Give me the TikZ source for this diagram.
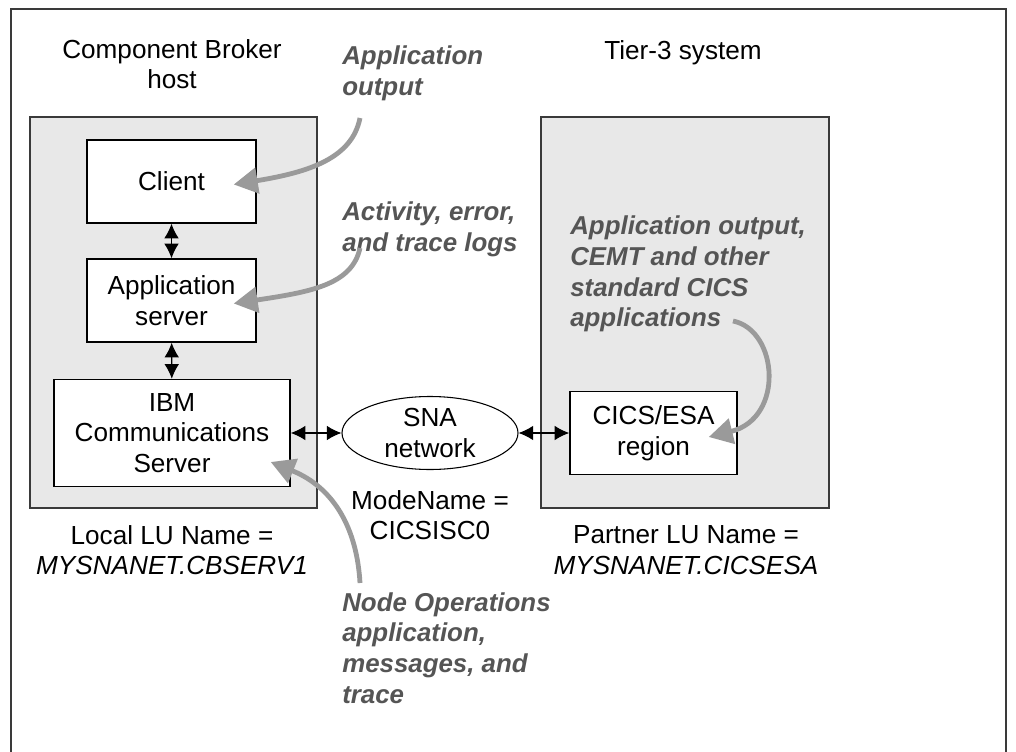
\documentclass[tikz,border=0pt]{standalone}
\usepackage{fontspec}
\setmainfont{Liberation Sans}
\usetikzlibrary{shapes.geometric,arrows.meta}
\newlength{\px}
\setlength{\px}{0.75pt}
\definecolor{notegray}{HTML}{555555}
\definecolor{arrowgray}{HTML}{9A9A9A}
\definecolor{shade}{HTML}{E8E8E8}
\definecolor{framegray}{HTML}{3A3A3A}

\begin{document}
\begin{tikzpicture}[x=0.75pt,y=-0.75pt,
  every node/.style={font=\fontsize{19.6}{23}\selectfont},
  hostbox/.style={draw=framegray,line width=1.1pt,fill=shade,inner sep=0pt},
  unitbox/.style={draw=black,line width=1.1pt,fill=white,align=center,inner sep=0pt},
  note/.style={align=left,inner sep=0pt,text=notegray,font=\fontsize{19.4}{23}\selectfont\bfseries\itshape},
  link/.style={line width=0.9pt,{Latex[length=11pt,width=11pt]}-{Latex[length=11pt,width=11pt]}},
  feed/.style={arrowgray,line width=3.6pt,-{Triangle[length=18pt,width=19pt]}}
]
\fill[white] (0,0) rectangle (1016,752);
\useasboundingbox (0,0) rectangle (1016,752);
\draw[framegray,line width=1.5pt] (11,752) -- (11,9) -- (1006,9) -- (1006,752);

% the two systems
\node[hostbox,minimum width=287\px,minimum height=391\px] (cbhost) at (173.5,312.5) {};
\node[hostbox,minimum width=288\px,minimum height=391\px] (tier3) at (685,312.5) {};
\node[align=center] (cbtitle) at (172,64) {Component Broker\\host};
\node (t3title) at (683,53) {Tier-3 system};

% boxes
\node[unitbox,minimum width=169\px,minimum height=83\px] (client) at (171.5,181.5) {Client};
\node[unitbox,minimum width=169\px,minimum height=83\px] (appsrv) at (171.5,300.5) {Application\\server};
\node[unitbox,minimum width=236\px,minimum height=107\px] (ibmcs) at (172,433) {IBM\\Communications\\Server};
\node[draw,ellipse,line width=0.8pt,fill=white,minimum width=176\px,minimum height=73\px,inner sep=0pt,align=center] (sna) at (430,433) {SNA\\network};
\node[unitbox,minimum width=167\px,minimum height=83\px] (cics) at (653.5,433) {CICS/ESA\\region};

\draw[link] (client) -- (appsrv);
\draw[link] (appsrv) -- (ibmcs);
\draw[link] (ibmcs) -- (sna);
\draw[link] (sna) -- (cics);

% names
\node[align=center] (lulocal) at (172,550) {Local LU Name =\\\textit{MYSNANET.CBSERV1}};
\node[align=center] (mode) at (430,515) {ModeName =\\CICSISC0};
\node[align=center] (lupartner) at (686,550) {Partner LU Name =\\\textit{MYSNANET.CICSESA}};

% where the output goes
\node[note,anchor=west] (appout) at (342,73.5) {Application\\output};
\node[note,anchor=west] (logs) at (342,229.5) {Activity, error,\\and trace logs};
\node[note,anchor=west] (cicsout) at (570,274) {Application output,\\CEMT and other\\standard CICS\\applications};
\node[note,anchor=west] (nodeops) at (342,648) {Node Operations\\application,\\messages, and\\trace};

\coordinate (appout-tail) at (360,118);
\coordinate (logs-tail) at (360,248);
\coordinate (cicsout-tail) at (733,321);
\coordinate (nodeops-tail) at (360,583);
\draw[feed] (appout-tail) .. controls (352,158) and (310,172) .. ([xshift=-23\px,yshift=-3\px]client.east);
\draw[feed] (logs-tail) .. controls (352,285) and (310,292) .. ([xshift=-23\px,yshift=-3\px]appsrv.east);
\draw[feed] (cicsout-tail) .. controls (778,330) and (785,418) .. ([xshift=-29\px,yshift=-4\px]cics.east);
\draw[feed] (nodeops-tail) .. controls (357,530) and (335,488) .. ([xshift=-20\px,yshift=-29\px]ibmcs.east);
\end{tikzpicture}
\end{document}
